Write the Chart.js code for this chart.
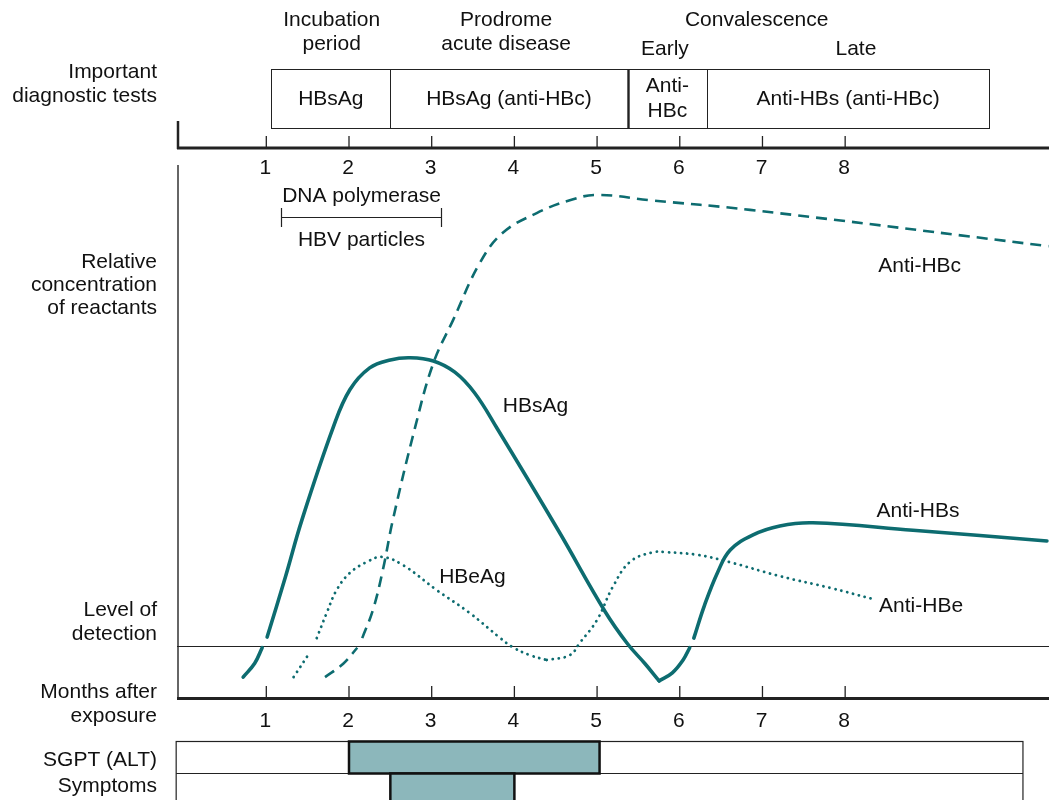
<!DOCTYPE html>
<html>
<head>
<meta charset="utf-8">
<script src="https://cdn.jsdelivr.net/npm/chart.js@4"></script>
<style>
  html, body { margin: 0; padding: 0; background: #fff; }
  #wrap { width: 1049px; height: 800px; }
</style>
</head>
<body>
<div id="wrap"><canvas id="myChart" width="1049" height="800"></canvas></div>
<script>
// months after exposure / relative level (null = break at the detection line)
const hbsagMonths  = [0.72, 0.86, 0.95, 0.98, 1.01, 1.23, 1.43, 1.81, 2.01, 2.25, 2.50, 2.74, 3.02, 3.28, 3.52, 3.79, 4.53, 5.10, 5.37, 5.58, 5.75];
const hbsagLevels  = [4.1, 6.7, 9.6, null, 11.6, 22.8, 33.5, 50.9, 57.9, 62.0, 63.5, 63.9, 63.3, 61.2, 57.3, 50.7, 31.6, 16.3, 10.3, 6.6, 3.4];

const antiHbsMonths = [5.75, 5.91, 6.04, 6.12, 6.14, 6.17, 6.30, 6.46, 6.61, 6.88, 7.21, 7.61, 8.82, 10.44];
const antiHbsLevels = [3.4, 4.9, 7.3, 9.6, null, 11.4, 17.6, 23.8, 27.9, 30.7, 32.4, 33.0, 31.6, 29.6];

const antiHbcMonths = [1.71, 1.93, 2.10, 2.13, 2.16, 2.29, 2.41, 2.53, 2.80, 3.02, 3.26, 3.58, 3.86, 4.27, 4.67, 5.00, 5.64, 6.85, 10.46];
const antiHbcLevels = [4.1, 6.6, 9.6, null, 11.4, 16.7, 24.2, 33.5, 50.9, 62.9, 71.0, 81.6, 87.3, 91.0, 93.4, 94.4, 93.4, 91.6, 84.8];

const hbeagMonths = [1.33, 1.53, 1.57, 1.61, 1.73, 1.85, 2.01, 2.22, 2.40, 2.65, 3.06, 3.46, 3.83, 3.98, 4.19, 4.39];
const hbeagLevels = [4.1, 8.8, null, 11.4, 16.1, 20.4, 23.6, 25.7, 26.6, 25.1, 20.4, 16.1, 11.4, 9.7, 8.2, 7.3];

const antiHbeMonths = [4.39, 4.67, 4.79, 5.00, 5.19, 5.40, 5.68, 5.82, 6.21, 6.61, 7.21, 7.82, 8.34];
const antiHbeLevels = [7.3, 8.2, 10.5, 14.8, 21.0, 25.7, 27.5, 27.5, 27.0, 25.6, 23.0, 20.8, 18.7];

const monthTicks = [1, 2, 3, 4, 5, 6, 7, 8];
const detectionLevel = 10;

// diagnostic test boxes (months)
const testStarts = [1.06, 2.5, 5.37, 6.33];
const testEnds   = [2.5, 5.37, 6.33, 9.74];
const testLabels = [['HBsAg'], ['HBsAg (anti-HBc)'], ['Anti-', 'HBc'], ['Anti-HBs (anti-HBc)']];

// stage headings
const stageLabels = [['Incubation', 'period'], ['Prodrome', 'acute disease'], ['Convalescence'], ['Early'], ['Late']];
const stageCenters = [1.79, 3.90, 6.93, 5.82, 8.13];

// DNA polymerase / HBV particles window
const particleWindow = [1.18, 3.11];

// lab rows
const labRows   = ['SGPT (ALT)', 'Symptoms'];
const labStarts = [2.0, 2.5];
const labEnds   = [5.03, 4.0];
const labFrameEnd = 10.15;

const curveNames = ['HBsAg', 'Anti-HBs', 'Anti-HBc', 'HBeAg', 'Anti-HBe'];

const TEAL = '#0d6c70';
const FILL = '#8cb7bb';
const INK = '#111';
const FONT = '21px "Liberation Sans", Arial, sans-serif';

const pts = (ms, vs) => ms.map((m, i) => ({ x: m, y: vs[i] }));

const solid = { borderColor: TEAL, borderWidth: 3.6, pointRadius: 0, borderCapStyle: 'round', tension: 0.4, spanGaps: false };
const dashed = { borderColor: TEAL, borderWidth: 2.6, pointRadius: 0, borderDash: [11, 7], tension: 0.4, spanGaps: false };
const dotted = { borderColor: TEAL, borderWidth: 2.8, pointRadius: 0, borderDash: [0.1, 6], borderCapStyle: 'round', tension: 0.4, spanGaps: false };

const figure = {
    id: 'figure',
    beforeDatasetsDraw(chart) {
        const ctx = chart.ctx;
        const y = chart.scales.y;
        const area = chart.chartArea;
        ctx.save();
        ctx.strokeStyle = '#333';
        // plot left edge
        ctx.lineWidth = 1.5;
        ctx.beginPath();
        ctx.moveTo(178, area.top);
        ctx.lineTo(178, area.bottom);
        ctx.stroke();
        // detection line
        const yd = Math.round(y.getPixelForValue(detectionLevel)) + 0.5;
        ctx.strokeStyle = '#222';
        ctx.lineWidth = 1;
        ctx.beginPath();
        ctx.moveTo(177, yd);
        ctx.lineTo(area.right, yd);
        ctx.stroke();
        ctx.restore();
    },
    afterDraw(chart) {
        const ctx = chart.ctx;
        const x = chart.scales.x, y = chart.scales.y;
        const area = chart.chartArea;
        const px = m => x.getPixelForValue(m);
        ctx.save();
        ctx.fillStyle = INK;
        ctx.strokeStyle = '#222';
        ctx.font = FONT;
        ctx.textBaseline = 'middle';

        // left labels
        ctx.textAlign = 'right';
        [['Important', 72], ['diagnostic tests', 96], ['Relative', 262], ['concentration', 285],
         ['of reactants', 308], ['Level of', 610], ['detection', 634], ['Months after', 692],
         ['exposure', 716], [labRows[0], 760], [labRows[1], 786]].forEach(([t, ty]) => ctx.fillText(t, 157, ty));

        // stage headings
        ctx.textAlign = 'center';
        stageLabels.forEach((lines, i) => {
            const ty = i >= 3 ? 49 : 20;
            lines.forEach((t, j) => ctx.fillText(t, px(stageCenters[i]), ty + j * 24));
        });

        // diagnostic test boxes: outer frame, then dividers
        const bl = Math.round(px(testStarts[0])) + 0.5;
        const br = Math.round(px(testEnds[testEnds.length - 1])) + 0.5;
        ctx.lineWidth = 1;
        ctx.strokeRect(bl, 69.5, br - bl, 59);
        testStarts.forEach((s, i) => {
            const l = px(s), r = px(testEnds[i]);
            if (i > 0) {
                ctx.lineWidth = i === 2 ? 2.4 : 1;
                const dx = Math.round(l) + 0.5;
                ctx.beginPath();
                ctx.moveTo(dx, 69.5);
                ctx.lineTo(dx, 128.5);
                ctx.stroke();
            }
            const lines = testLabels[i];
            const c = (l + r) / 2;
            lines.forEach((t, j) => ctx.fillText(t, c, 99 + (j - (lines.length - 1) / 2) * 25));
        });

        // top axis
        ctx.lineWidth = 2.5;
        ctx.beginPath();
        ctx.moveTo(178, 121);
        ctx.lineTo(178, 149);
        ctx.stroke();
        ctx.lineWidth = 3;
        ctx.beginPath();
        ctx.moveTo(177, 148);
        ctx.lineTo(area.right, 148);
        ctx.stroke();
        ctx.lineWidth = 1.3;
        monthTicks.forEach(m => {
            ctx.beginPath();
            ctx.moveTo(px(m), 136);
            ctx.lineTo(px(m), 147);
            ctx.stroke();
            ctx.fillText(String(m), px(m) - 1, 168);
        });

        // DNA polymerase window
        const b0 = Math.round(px(particleWindow[0])) + 0.5, b1 = Math.round(px(particleWindow[1])) + 0.5;
        ctx.fillText('DNA polymerase', (b0 + b1) / 2, 196);
        ctx.fillText('HBV particles', (b0 + b1) / 2, 240);
        ctx.lineWidth = 1.2;
        ctx.beginPath();
        ctx.moveTo(b0, 217.5); ctx.lineTo(b1, 217.5);
        ctx.moveTo(b0, 208); ctx.lineTo(b0, 227);
        ctx.moveTo(b1, 208); ctx.lineTo(b1, 227);
        ctx.stroke();

        // bottom axis
        ctx.lineWidth = 3;
        ctx.beginPath();
        ctx.moveTo(177, 698.5);
        ctx.lineTo(area.right, 698.5);
        ctx.stroke();
        ctx.lineWidth = 1.3;
        monthTicks.forEach(m => {
            ctx.beginPath();
            ctx.moveTo(px(m), 686);
            ctx.lineTo(px(m), 697);
            ctx.stroke();
            ctx.fillText(String(m), px(m) - 1, 721);
        });

        // curve labels (data coordinates)
        ctx.textAlign = 'left';
        [[curveNames[2], 8.40, 81.0], [curveNames[0], 3.86, 54.9], [curveNames[1], 8.38, 35.2],
         [curveNames[3], 3.09, 22.9], [curveNames[4], 8.41, 17.4]].forEach(([t, m, v]) => ctx.fillText(t, px(m), y.getPixelForValue(v)));

        // lab rows
        const fl = px(-0.09), fr = px(labFrameEnd);
        ctx.lineWidth = 1.2;
        ctx.strokeRect(fl, 741.5, fr - fl, 70);
        ctx.beginPath();
        ctx.moveTo(fl, 773.5); ctx.lineTo(fr, 773.5);
        ctx.stroke();
        const rowTop = [741.5, 773.5];
        labStarts.forEach((s, i) => {
            const l = px(s), r = px(labEnds[i]);
            ctx.fillStyle = FILL;
            ctx.fillRect(l, rowTop[i], r - l, i === 0 ? 32 : 40);
            ctx.lineWidth = 2.5;
            ctx.strokeStyle = '#111';
            ctx.strokeRect(l, rowTop[i], r - l, i === 0 ? 32 : 40);
        });
        ctx.restore();
    }
};

new Chart(document.getElementById('myChart').getContext('2d'), {
    type: 'line',
    data: {
        datasets: [
            { label: curveNames[0], data: pts(hbsagMonths, hbsagLevels), ...solid },
            { label: curveNames[1], data: pts(antiHbsMonths, antiHbsLevels), ...solid },
            { label: curveNames[2], data: pts(antiHbcMonths, antiHbcLevels), ...dashed },
            { label: curveNames[3], data: pts(hbeagMonths, hbeagLevels), ...dotted },
            { label: curveNames[4], data: pts(antiHbeMonths, antiHbeLevels), ...dotted }
        ]
    },
    options: {
        responsive: false,
        animation: false,
        layout: { padding: { left: 177, right: 0, top: 165, bottom: 101 } },
        scales: {
            x: { type: 'linear', min: -0.08, max: 10.465, display: false },
            y: { min: 0, max: 100, display: false }
        },
        plugins: {
            legend: { display: false },
            tooltip: { enabled: false }
        }
    },
    plugins: [figure]
});
</script>
</body>
</html>
